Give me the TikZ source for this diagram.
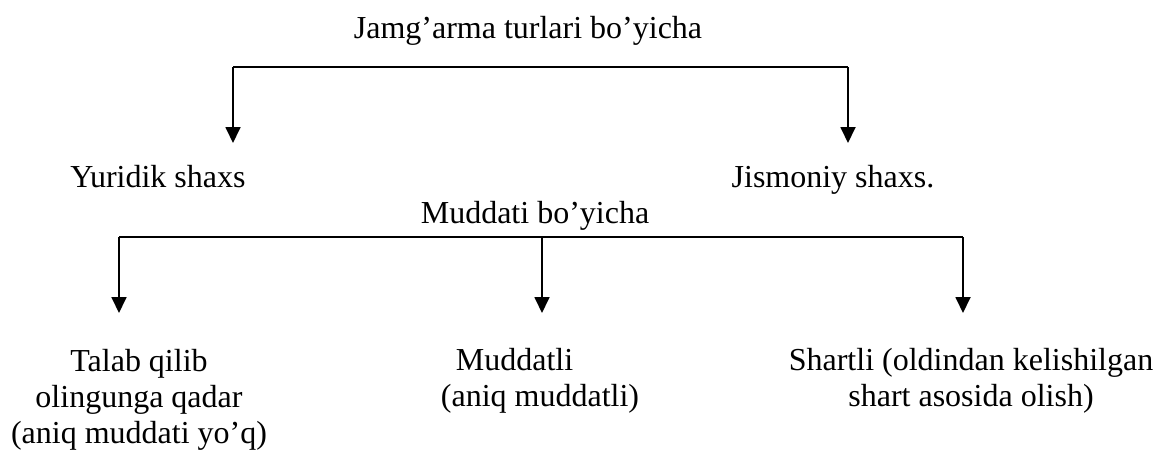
\documentclass[tikz,border=0pt]{standalone}
\usepackage{fontspec}
\setmainfont{Liberation Serif}
\usetikzlibrary{arrows.meta}
\begin{document}
\begin{tikzpicture}[x=1pt, y=-1pt, every node/.style={font=\fontsize{32}{36}\selectfont, inner sep=0pt}, >={Triangle[length=16pt,width=15pt]}]
    % uslublar
    \tikzset{label/.style={anchor=base}, multi/.style={anchor=base, align=center}}
    \tikzset{bar/.style={line width=1.8pt}, arrow/.style={line width=1.8pt,->}}
    \useasboundingbox (0,0) rectangle (1163,450);

    % tugunlar (ko'p qatorlilarda base = oxirgi qator)
    \node[label] (turlari) at (528,38) {Jamg’arma turlari bo’yicha};
    \node[label] (yuridik) at (158,187) {Yuridik shaxs};
    \node[label] (jismoniy) at (833,187) {Jismoniy shaxs.};
    \node[label] (muddati) at (535,223) {Muddati bo’yicha};
    \node[multi] (talab) at (139,443) {Talab qilib\\olingunga qadar\\(aniq muddati yo’q)};
    \node[multi, align=left] (muddatli) at (540,406) {\hspace*{15pt}Muddatli\\(aniq muddatli)};
    \node[multi] (shartli) at (971,406) {Shartli (oldindan kelishilgan\\shart asosida olish)};

    % shoxlanish nuqtalari
    \coordinate (tl) at (233,67);
    \coordinate (tr) at (848,67);
    \coordinate (yuridik tip) at (233,143);
    \coordinate (jismoniy tip) at (848,143);
    \coordinate (bl) at (119,237);
    \coordinate (bm) at (542,237);
    \coordinate (br) at (963,237);
    \coordinate (talab tip) at (119,313);
    \coordinate (muddatli tip) at (542,313);
    \coordinate (shartli tip) at (963,313);

    % chiziqlar
    \draw[bar] (tl) -- (tr);
    \draw[arrow] (tl) -- (yuridik tip);
    \draw[arrow] (tr) -- (jismoniy tip);

    \draw[bar] (bl) -- (br);
    \draw[arrow] (bl) -- (talab tip);
    \draw[arrow] (bm) -- (muddatli tip);
    \draw[arrow] (br) -- (shartli tip);
\end{tikzpicture}
\end{document}
